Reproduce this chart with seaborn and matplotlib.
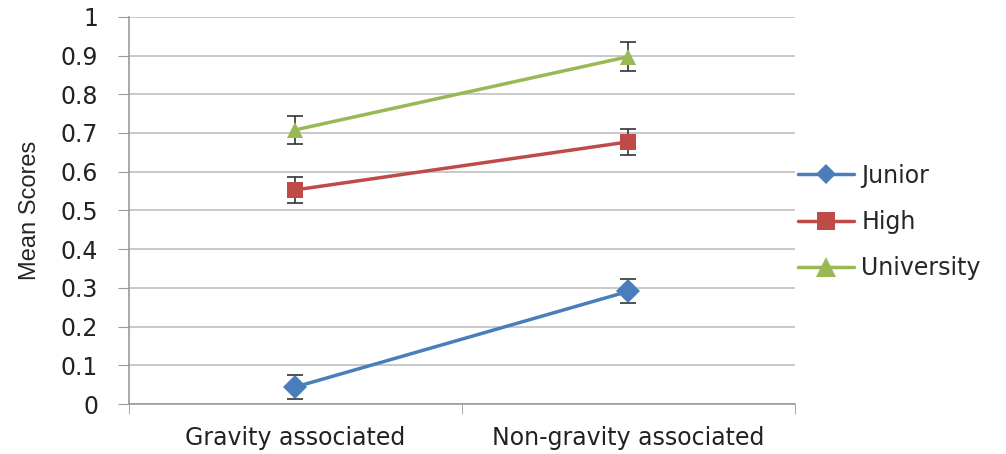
import numpy as np
import pandas as pd
import matplotlib
matplotlib.use("Agg")
import matplotlib.pyplot as plt
import seaborn as sns

# data
categories = ["Gravity associated", "Non-gravity associated"]
groups = ["Junior", "High", "University"]
junior = [0.044, 0.291]
high = [0.553, 0.677]
university = [0.708, 0.897]
junior_err = [0.031, 0.031]
high_err = [0.034, 0.034]
university_err = [0.037, 0.037]

colors = {"Junior": "#4a7ebb", "High": "#be4b48", "University": "#98b954"}
markers = {"Junior": "D", "High": "s", "University": "^"}
msizes = {"Junior": 12, "High": 16, "University": 17}

df = pd.DataFrame({
    "x": [0, 1] * 3,
    "score": junior + high + university,
    "err": junior_err + high_err + university_err,
    "group": np.repeat(groups, 2),
})

sns.set_style("white")
plt.rcParams["font.family"] = ["DejaVu Sans"]

fig = plt.figure(figsize=(10.06, 4.54), dpi=100)
ax = fig.add_axes([0.128, 0.110, 0.662, 0.853])

for g in groups:
    sub = df[df["group"] == g]
    ax.errorbar(sub["x"], sub["score"], yerr=sub["err"], fmt="none",
                ecolor="#333333", elinewidth=1.2, capsize=6, capthick=1.2, zorder=2)

sns.lineplot(data=df, x="x", y="score", hue="group", style="group",
             palette=colors, markers=markers, dashes=False, linewidth=2.5,
             markersize=12, markeredgewidth=0, ax=ax, zorder=3)
for line, g in zip(ax.lines[-3:], groups):
    line.set_markersize(msizes[g])

ax.set_xlim(-0.5, 1.5)
ax.set_ylim(0, 1)
ax.set_yticks(np.arange(0, 1.01, 0.1))
ax.set_yticklabels(["0", "0.1", "0.2", "0.3", "0.4", "0.5", "0.6", "0.7", "0.8", "0.9", "1"])
ax.set_xticks([0, 1])
ax.set_xticklabels(categories)
ax.tick_params(axis="y", labelsize=17, length=8, color="#999999", direction="out",
               left=True, pad=14, labelcolor="#222222")
ax.tick_params(axis="x", labelsize=17, length=0, pad=16, labelcolor="#222222")
# minor ticks on x at category boundaries
ax.set_xticks([-0.5, 0.5, 1.5], minor=True)
ax.tick_params(axis="x", which="minor", length=7, color="#999999", direction="out", bottom=True)

ax.grid(axis="y", color="#c0c0c0", linewidth=1.2)
ax.set_axisbelow(True)
for s in ["top", "right"]:
    ax.spines[s].set_visible(False)
for s in ["left", "bottom"]:
    ax.spines[s].set_color("#999999")
    ax.spines[s].set_linewidth(1.2)

ax.set_xlabel("")
ax.set_ylabel("Mean Scores", fontsize=17, labelpad=14, family=["Liberation Sans", "DejaVu Sans"])

handles, labels = ax.get_legend_handles_labels()
for h, g in zip(handles, labels):
    h.set_markersize(msizes[g] * 0.85)
leg = ax.legend(handles, labels, loc="center left", bbox_to_anchor=(0.99, 0.47),
                frameon=False, fontsize=17, handlelength=2.4, labelspacing=0.95,
                handletextpad=0.3, borderaxespad=0.0)

fig.savefig("out.png", dpi=100)
